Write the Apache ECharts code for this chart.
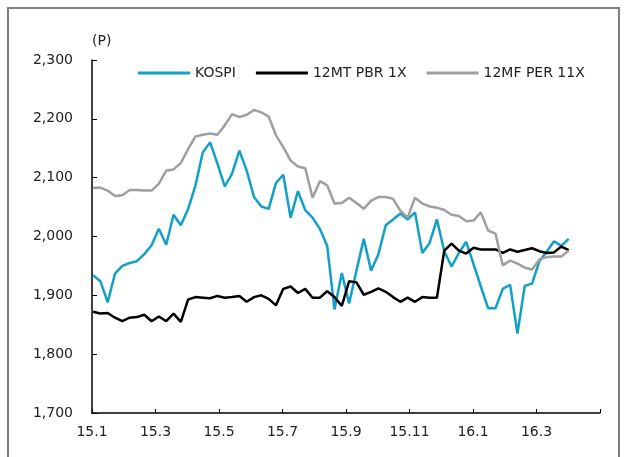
<!DOCTYPE html>
<html>
<head>
<meta charset="utf-8">
<script src="https://cdn.jsdelivr.net/npm/echarts@6/dist/echarts.min.js"></script>
<style>
  html, body { margin: 0; padding: 0; background: #fff; }
  #chart { width: 626px; height: 457px; }
</style>
</head>
<body>
<div id="chart"></div>
<script>
// Weekly observations starting 2015-01-02
const startDay = 1;            // days after 2015-01-01
const stepDays = 7;
const daysPerMonth = 30.375;   // 2015-01-01 .. 2016-05-01 = 486 days = 16 months on the axis

const tickLabels = ['15.1', '15.3', '15.5', '15.7', '15.9', '15.11', '16.1', '16.3', ''];
const seriesNames = ['KOSPI', '12MT PBR 1X', '12MF PER 11X'];

const kospi = [1934,1924,1888,1937,1950,1955,1958,1970,1985,2013,1986,2037,2019,
  2047,2087,2143,2160,2124,2085,2107,2146,2112,2067,2051,2047,2091,
  2105,2032,2077,2045,2032,2013,1984,1876,1938,1886,1942,1996,1942,
  1970,2019,2029,2039,2029,2041,1972,1989,2029,1975,1949,1972,1991,
  1953,1915,1878,1878,1911,1918,1835,1916,1920,1958,1974,1992,1984,1996];

const pbr1x = [1872,1869,1870,1862,1856,1862,1863,1867,1856,1864,1856,1869,1855,
  1893,1897,1896,1895,1899,1896,1897,1899,1889,1897,1900,1894,1883,
  1911,1915,1904,1911,1896,1896,1907,1897,1882,1924,1922,1901,1906,
  1912,1906,1897,1889,1896,1889,1897,1896,1896,1976,1988,1976,1971,
  1981,1978,1978,1978,1972,1978,1974,1977,1980,1975,1972,1973,1983,1977];

const per11x = [2083,2083,2078,2069,2070,2079,2079,2078,2078,2090,2112,2114,2125,
  2149,2170,2173,2175,2173,2189,2208,2203,2207,2215,2211,2204,2172,
  2152,2129,2119,2116,2066,2094,2087,2056,2057,2066,2057,2047,2061,
  2067,2067,2064,2044,2032,2066,2056,2051,2049,2045,2037,2035,2026,
  2027,2041,2010,2005,1951,1959,1954,1947,1944,1961,1965,1966,1966,1976];

function toPairs(arr) {
  return arr.map((v, i) => [(startDay + i * stepDays) / daysPerMonth, v]);
}

const FONT = 'DejaVu Sans';
const chart = echarts.init(document.getElementById('chart'), null, { renderer: 'canvas' });

chart.setOption({
  animation: false,
  backgroundColor: '#ffffff',
  textStyle: { fontFamily: FONT },
  graphic: [{
    type: 'rect',
    shape: { x: 8, y: 8, width: 611, height: 470 },
    style: { fill: 'none', stroke: '#808080', lineWidth: 2 },
    silent: true
  }],
  grid: { left: 92, right: 26, top: 60, bottom: 44 },
  legend: {
    left: 138,
    top: 66,
    padding: 0,
    icon: 'rect',
    itemWidth: 52,
    itemHeight: 3,
    itemGap: 20,
    textStyle: { fontFamily: FONT, fontSize: 14, color: '#222' },
    data: seriesNames
  },
  xAxis: {
    type: 'value',
    min: 0,
    max: 16,
    interval: 2,
    axisLine: { lineStyle: { color: '#000', width: 1.5 } },
    axisTick: { inside: true, length: 4, lineStyle: { color: '#000' } },
    splitLine: { show: false },
    axisLabel: {
      margin: 12,
      color: '#222',
      fontFamily: FONT,
      fontSize: 14,
      formatter: v => tickLabels[Math.round(v / 2)]
    }
  },
  yAxis: {
    type: 'value',
    min: 1700,
    max: 2300,
    interval: 100,
    name: '(P)',
    nameLocation: 'end',
    nameGap: 12,
    nameTextStyle: { fontFamily: FONT, fontSize: 14, color: '#222', align: 'left' },
    axisLine: { show: true, lineStyle: { color: '#000', width: 1.5 } },
    axisTick: { show: true, inside: true, length: 5, lineStyle: { color: '#000' } },
    splitLine: { show: false },
    axisLabel: {
      margin: 19,
      color: '#222',
      fontFamily: FONT,
      fontSize: 14,
      formatter: v => v.toLocaleString('en-US')
    }
  },
  series: [
    { name: seriesNames[0], type: 'line', data: toPairs(kospi), symbol: 'none',
      lineStyle: { color: '#12A0C8', width: 2.5 }, itemStyle: { color: '#12A0C8' } },
    { name: seriesNames[1], type: 'line', data: toPairs(pbr1x), symbol: 'none',
      lineStyle: { color: '#000000', width: 2.5 }, itemStyle: { color: '#000000' } },
    { name: seriesNames[2], type: 'line', data: toPairs(per11x), symbol: 'none',
      lineStyle: { color: '#9f9f9f', width: 2.5 }, itemStyle: { color: '#9f9f9f' } }
  ]
});
</script>
</body>
</html>
